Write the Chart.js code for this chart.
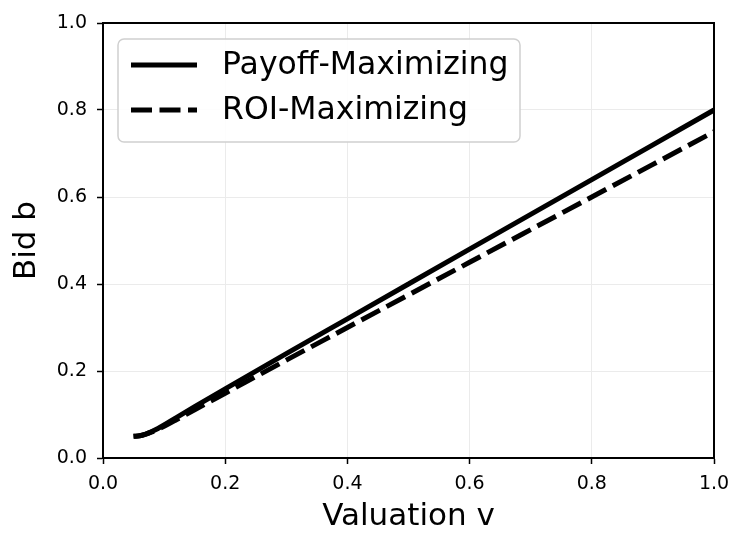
<!DOCTYPE html>
<html>
<head>
<meta charset="utf-8">
<script src="https://cdn.jsdelivr.net/npm/chart.js@4.4.0/dist/chart.umd.min.js"></script>
<style>
  html, body { margin: 0; padding: 0; background: #fff; }
  #wrap { width: 747px; height: 548px; }
</style>
</head>
<body>
<div id="wrap"><canvas id="bidChart" width="747" height="548"></canvas></div>
<script>
// valuations and bids
const valuations = [0.05, 0.06, 0.07, 0.08, 0.09, 0.10, 0.12, 0.15, 0.2, 0.3, 0.4, 0.5, 0.6, 0.7, 0.8, 0.9, 1.0];
const payoffBids = [0.05, 0.051, 0.055, 0.061, 0.068, 0.076, 0.093, 0.118, 0.159, 0.24, 0.32, 0.40, 0.48, 0.56, 0.64, 0.72, 0.80];
const roiBids = [0.05, 0.051, 0.055, 0.060, 0.066, 0.073, 0.088, 0.111, 0.149, 0.225, 0.30, 0.375, 0.45, 0.525, 0.60, 0.675, 0.75];
const tickValues = [0, 0.2, 0.4, 0.6, 0.8, 1.0];

const FONT = "'DejaVu Sans', sans-serif";

const toPoints = ys => valuations.map((v, i) => ({ x: v, y: ys[i] }));

// top + right spines
const frame = {
  id: 'frame',
  afterDatasetsDraw(chart) {
    const { ctx, chartArea: a } = chart;
    ctx.save();
    ctx.strokeStyle = '#000';
    ctx.lineWidth = 2;
    ctx.beginPath();
    ctx.moveTo(a.left, a.top);
    ctx.lineTo(a.right, a.top);
    ctx.lineTo(a.right, a.bottom);
    ctx.stroke();
    ctx.restore();
  }
};

// matplotlib-style legend box
const boxLegend = {
  id: 'boxLegend',
  afterDraw(chart) {
    const ctx = chart.ctx;
    const x = 118, y = 39, w = 402, h = 103;
    ctx.save();
    ctx.beginPath();
    ctx.roundRect(x, y, w, h, 6);
    ctx.fillStyle = 'rgba(255,255,255,0.9)';
    ctx.fill();
    ctx.strokeStyle = '#d0d0d0';
    ctx.lineWidth = 1.5;
    ctx.stroke();

    const rows = [65, 110];
    chart.data.datasets.forEach((ds, i) => {
      ctx.beginPath();
      ctx.setLineDash(ds.borderDash || []);
      ctx.lineWidth = ds.borderWidth;
      ctx.strokeStyle = ds.borderColor;
      ctx.moveTo(131, rows[i]);
      ctx.lineTo(197, rows[i]);
      ctx.stroke();
      ctx.setLineDash([]);
      ctx.fillStyle = '#000';
      ctx.font = '31.5px ' + FONT;
      ctx.textBaseline = 'middle';
      ctx.textAlign = 'left';
      ctx.fillText(ds.label, 222, rows[i] + 1);
    });
    ctx.restore();
  }
};

new Chart(document.getElementById('bidChart'), {
  type: 'line',
  data: {
    datasets: [
      {
        label: 'Payoff-Maximizing',
        data: toPoints(payoffBids),
        borderColor: '#000',
        borderWidth: 5,
        pointRadius: 0,
        cubicInterpolationMode: 'monotone',
        fill: false
      },
      {
        label: 'ROI-Maximizing',
        data: toPoints(roiBids),
        borderColor: '#000',
        borderWidth: 5,
        borderDash: [21, 7.5],
        pointRadius: 0,
        cubicInterpolationMode: 'monotone',
        fill: false
      }
    ]
  },
  options: {
    responsive: false,
    animation: false,
    devicePixelRatio: 1,
    layout: { padding: { left: 0, right: 33, top: 23, bottom: 0 } },
    plugins: {
      legend: { display: false },
      tooltip: { enabled: false }
    },
    scales: {
      x: {
        type: 'linear',
        min: 0,
        max: 1,
        afterFit: s => { s.height = 90; },
        afterBuildTicks: s => { s.ticks = tickValues.map(v => ({ value: v })); },
        ticks: {
          color: '#000',
          font: { family: FONT, size: 19 },
          padding: 9,
          maxRotation: 0,
          callback: v => v.toFixed(1)
        },
        grid: { color: '#ebebeb', lineWidth: 1, tickColor: '#000', tickLength: 6, tickWidth: 1.5 },
        border: { color: '#000', width: 2 },
        title: {
          display: true,
          text: 'Valuation v',
          color: '#000',
          font: { family: FONT, size: 31 },
          padding: { top: 0, bottom: 12 }
        }
      },
      y: {
        type: 'linear',
        min: 0,
        max: 1,
        afterFit: s => { s.width = 103; },
        afterBuildTicks: s => { s.ticks = tickValues.map(v => ({ value: v })); },
        ticks: {
          color: '#000',
          font: { family: FONT, size: 19 },
          padding: 10,
          callback: v => v.toFixed(1)
        },
        grid: { color: '#ebebeb', lineWidth: 1, tickColor: '#000', tickLength: 6, tickWidth: 1.5 },
        border: { color: '#000', width: 2 },
        title: {
          display: true,
          text: 'Bid b',
          color: '#000',
          font: { family: FONT, size: 31 },
          padding: { top: 8, bottom: 0 }
        }
      }
    }
  },
  plugins: [frame, boxLegend]
});
</script>
</body>
</html>
